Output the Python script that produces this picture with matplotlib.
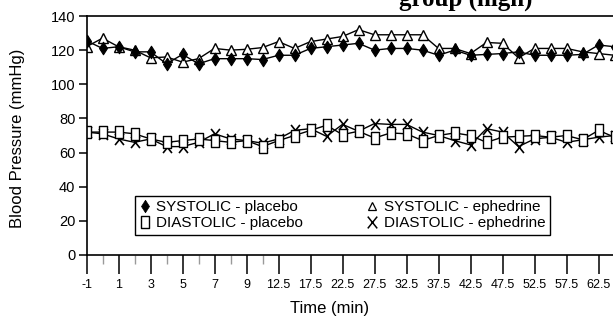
import numpy as np
import matplotlib
matplotlib.use("Agg")
import matplotlib.pyplot as plt
from matplotlib.path import Path
from matplotlib.lines import Line2D

plt.rcParams['font.family'] = ['Liberation Sans', 'DejaVu Sans']

# ---- data ----
time_min = [-1, 0, 1, 2, 3, 4, 5, 6, 7, 8, 9, 10, 12.5, 15, 17.5, 20, 22.5, 25,
            27.5, 30, 32.5, 35, 37.5, 40, 42.5, 45, 47.5, 50, 52.5, 55, 57.5, 60,
            62.5, 65]
systolic_placebo = [125.5, 121, 122, 119, 119, 112, 117.5, 112, 115, 115, 115, 114.5,
                    117, 117, 121, 122, 123, 124, 120, 121, 121, 120, 117, 120,
                    117, 117.5, 118, 119, 117, 117, 117, 117.5, 123, 122]
systolic_ephedrine = [122, 127, 122, 120, 115.5, 116, 113, 115, 121, 120, 120.5, 121.5,
                      125, 121, 125, 126.5, 128, 132, 129, 129, 129, 129, 121, 121,
                      118, 124.5, 124, 115.5, 121, 121, 121, 119, 118, 117]
diastolic_placebo = [72, 72, 72, 71, 68, 66, 67, 68, 67, 66, 67, 63.5,
                     67, 70, 73, 76, 70.5, 72.5, 68.5, 71.5, 71, 67, 70, 71.5,
                     70, 66, 69, 69.5, 70, 69, 70, 67.5, 73, 69]
diastolic_ephedrine = [72, 71, 68, 66, 68, 63.5, 63.5, 66, 71, 68, 67, 65.5,
                       68, 73, 74, 69.5, 76.5, 72.5, 77, 76.5, 76.5, 72, 70, 67,
                       64.5, 74, 72, 63.5, 68, 69, 66, 67.5, 69, 70]
major_tick_labels = ["-1", "1", "3", "5", "7", "9", "12.5", "17.5", "22.5", "27.5",
                     "32.5", "37.5", "42.5", "47.5", "52.5", "57.5", "62.5"]
minor_tick_times = [0, 2, 4, 6, 8, 10]
y_ticks = [0, 20, 40, 60, 80, 100, 120, 140]
series_labels = ["SYSTOLIC - placebo", "DIASTOLIC - placebo",
                 "SYSTOLIC - ephedrine", "DIASTOLIC - ephedrine"]

# ---- layout ----
W, H = 613, 321
fig = plt.figure(figsize=(W / 100, H / 100), dpi=100)
left_px, top_px, bottom_px, step_px = 86.5, 16, 255, 16.0
ax = fig.add_axes([left_px / W, (H - bottom_px) / H, (W - left_px) / W,
                   (bottom_px - top_px) / H])

pos = np.arange(len(time_min))
ax.set_xlim(0, (W - left_px) / step_px)
ax.set_ylim(0, 140)

diamond = Path([(0, 0.5), (0.32, 0), (0, -0.5), (-0.32, 0), (0, 0.5)],
               [Path.MOVETO, Path.LINETO, Path.LINETO, Path.LINETO, Path.CLOSEPOLY])
rect = Path([(-0.3, -0.5), (0.3, -0.5), (0.3, 0.5), (-0.3, 0.5), (-0.3, -0.5)],
            [Path.MOVETO, Path.LINETO, Path.LINETO, Path.LINETO, Path.CLOSEPOLY])
xmark = Path([(-0.4, -0.5), (0.4, 0.5), (-0.4, 0.5), (0.4, -0.5)],
             [Path.MOVETO, Path.LINETO, Path.MOVETO, Path.LINETO])

lw = 1.0
st = dict(color='black', lw=lw, mec='black', clip_on=True)
ax.plot(pos, diastolic_ephedrine, marker=xmark, ms=8, mew=1.2, **st)
ax.plot(pos, diastolic_placebo, marker=rect, ms=8.5, mfc='white', mew=1.0, **st)
ax.plot(pos, systolic_ephedrine, marker='^', ms=6.5, mfc='white', mew=1.0, **st)
ax.plot(pos, systolic_placebo, marker=diamond, ms=9, mfc='black', mew=0.8, **st)

# ---- axes styling ----
for s in ['top', 'left', 'bottom']:
    ax.spines[s].set_linewidth(1.2)
ax.spines['right'].set_visible(False)

ax.set_yticks(y_ticks)
ax.tick_params(axis='y', direction='out', length=6, width=1.1, labelsize=10.5, pad=2)

major_pos = [time_min.index(float(l)) for l in major_tick_labels]
minor_pos = [time_min.index(t) for t in minor_tick_times]
ax.set_xticks(major_pos)
ax.set_xticklabels(major_tick_labels)
ax.set_xticks(minor_pos, minor=True)
ax.tick_params(axis='x', which='major', direction='out', length=13.5, width=1.1,
               labelsize=9, pad=3.5)
ax.tick_params(axis='x', which='minor', direction='out', length=6.5, width=1.0,
               color='#9a9a9a')

fig.text(330 / W, 1 - 308 / H, "Time (min)", ha='center', va='center', fontsize=12)
fig.text(18 / W, 1 - 138 / H, "Blood Pressure (mmHg)", ha='center', va='center',
         rotation=90, fontsize=12)

# ---- legend ----
handles = [
    Line2D([], [], ls='none', marker=diamond, ms=9, mfc='black', mec='black', mew=0.5),
    Line2D([], [], ls='none', marker=rect, ms=8.5, mfc='white', mec='black', mew=1.0),
    Line2D([], [], ls='none', marker='^', ms=6, mfc='white', mec='black', mew=0.9),
    Line2D([], [], ls='none', marker=xmark, ms=8.5, mec='black', mew=1.1),
]
leg = ax.legend(handles, series_labels, ncol=2, mode='expand', loc='lower left',
                bbox_to_anchor=(135 / W, 1 - 235 / H, 415 / W, 40 / H),
                bbox_transform=fig.transFigure, fontsize=11, handlelength=0.7,
                handletextpad=0.4, labelspacing=0.15, borderpad=0.3,
                borderaxespad=0, fancybox=False, framealpha=1, edgecolor='black')
leg.get_frame().set_linewidth(1.0)

# partially cropped title at the top (only its lower part is visible)
fig.text(466 / W, 1 - 6 / H, "group (high)", ha='center', va='baseline',
         fontsize=18, fontweight='bold', family='Liberation Serif')

fig.savefig("out.png", dpi=100)
